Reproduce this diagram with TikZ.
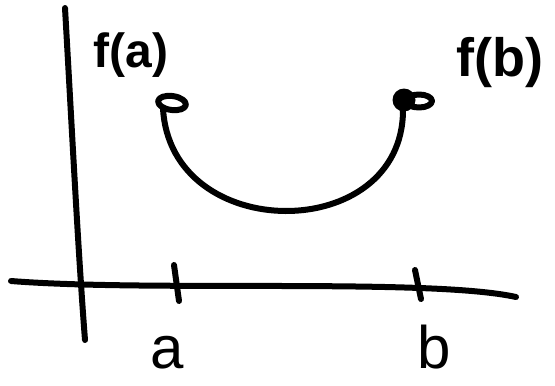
\documentclass[tikz,border=0pt]{standalone}
\usepackage{fontspec}
\setmainfont{Liberation Sans}
\usetikzlibrary{shapes.geometric}
\tikzstyle{every path}=[line width=6pt,line cap=round,line join=round]
\tikzstyle{label font}=[font=\fontsize{60}{60}\selectfont, inner sep=0pt, anchor=base]
\tikzstyle{value font}=[font=\bfseries\fontsize{48}{48}\selectfont]
\tikzstyle{open end}=[draw, ellipse, inner sep=0pt, minimum width=28pt, minimum height=14pt]
\tikzstyle{closed end}=[circle, fill, inner sep=0pt, minimum size=23pt]

\begin{document}
\begin{tikzpicture}[x=1pt,y=-1pt]
% Sketch of a function on [a,b]
	\useasboundingbox (0,0) rectangle (555,386);
	%Axes
	\coordinate (Y0) at (65,8); %Y0 = top of the vertical axis
	\coordinate (Y1) at (85,340); %Y1 = foot of the vertical axis
	\coordinate (X0) at (11,281); %X0 = left end of the horizontal axis
	\coordinate (X1) at (516,297); %X1 = right end of the horizontal axis
	\draw (Y0) .. controls (72,130) and (78,250) .. (Y1);
	\draw (X0) .. controls (150,292) and (430,278) .. (X1);
	%Ticks
	\coordinate (TA0) at (174,265); \coordinate (TA1) at (179,301); %tick at a
	\coordinate (TB0) at (415,270); \coordinate (TB1) at (421,299); %tick at b
	\draw (TA0) -- (TA1);
	\draw (TB0) -- (TB1);
	\node [label font] (La) at (167,368) {a};
	\node [label font] (Lb) at (434,368) {b};
	%End points of the curve
	\node [open end, rotate=-8] (EA) at (172,103) {}; %EA = open end at a
	\node [closed end] (EB) at (404,100) {}; %EB = filled end at b
	\node [open end, minimum width=26pt, minimum height=13pt] (OB) at (419,101) {};
	\coordinate (CA) at (163,108); %CA = start of the curve
	\coordinate (CB) at (403,110); %CB = end of the curve
	\draw (CA) .. controls (170,245) and (403,245) .. (CB);
	%Values
	\node [value font] (FA) at (131,55) {f(a)};
	\node [value font, font=\bfseries\fontsize{54}{54}\selectfont] (FB) at (500,63) {f(b)};
\end{tikzpicture}
\end{document}
